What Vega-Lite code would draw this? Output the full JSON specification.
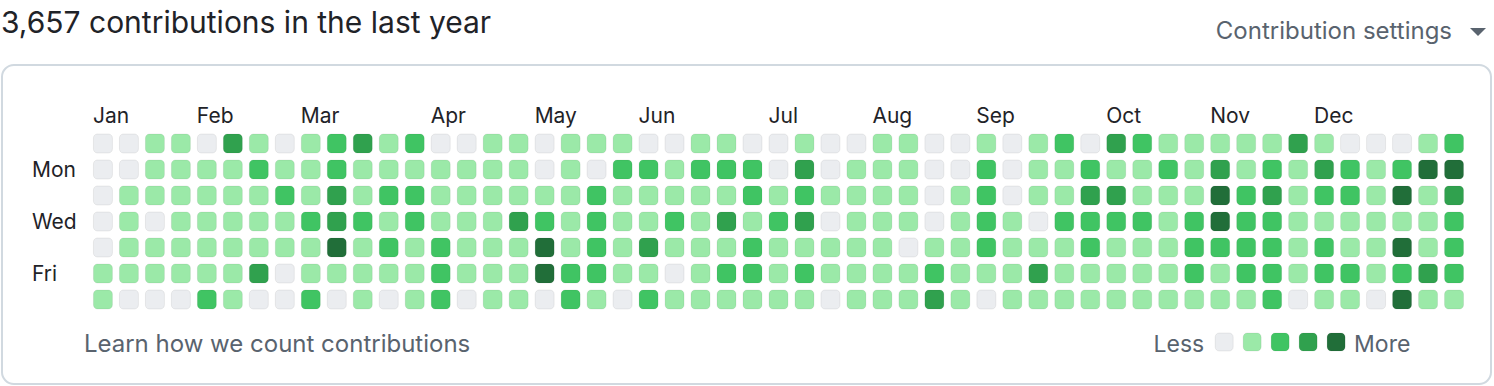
{
  "$schema": "https://vega.github.io/schema/vega-lite/v6.json",
  "width": 1494,
  "height": 386,
  "autosize": {"type": "fit", "contains": "padding"},
  "padding": 0,
  "background": "#ffffff",
  "config": {"view": {"stroke": null}, "text": {"font": "Inter"}},
  "datasets": {
    "cells": [
      {"week":0,"day":0,"level":0},{"week":1,"day":0,"level":0},{"week":2,"day":0,"level":1},{"week":3,"day":0,"level":1},{"week":4,"day":0,"level":0},{"week":5,"day":0,"level":3},{"week":6,"day":0,"level":1},{"week":7,"day":0,"level":0},{"week":8,"day":0,"level":1},{"week":9,"day":0,"level":2},{"week":10,"day":0,"level":3},{"week":11,"day":0,"level":1},{"week":12,"day":0,"level":2},{"week":13,"day":0,"level":0},{"week":14,"day":0,"level":0},{"week":15,"day":0,"level":1},{"week":16,"day":0,"level":1},{"week":17,"day":0,"level":0},{"week":18,"day":0,"level":1},{"week":19,"day":0,"level":1},{"week":20,"day":0,"level":1},{"week":21,"day":0,"level":0},{"week":22,"day":0,"level":0},{"week":23,"day":0,"level":1},{"week":24,"day":0,"level":1},{"week":25,"day":0,"level":0},{"week":26,"day":0,"level":0},{"week":27,"day":0,"level":1},{"week":28,"day":0,"level":0},{"week":29,"day":0,"level":0},{"week":30,"day":0,"level":1},{"week":31,"day":0,"level":1},{"week":32,"day":0,"level":0},{"week":33,"day":0,"level":0},{"week":34,"day":0,"level":1},{"week":35,"day":0,"level":0},{"week":36,"day":0,"level":1},{"week":37,"day":0,"level":2},{"week":38,"day":0,"level":0},{"week":39,"day":0,"level":3},{"week":40,"day":0,"level":2},{"week":41,"day":0,"level":1},{"week":42,"day":0,"level":1},{"week":43,"day":0,"level":1},{"week":44,"day":0,"level":1},{"week":45,"day":0,"level":1},{"week":46,"day":0,"level":3},{"week":47,"day":0,"level":1},{"week":48,"day":0,"level":0},{"week":49,"day":0,"level":0},{"week":50,"day":0,"level":0},{"week":51,"day":0,"level":1},{"week":52,"day":0,"level":2},
      {"week":0,"day":1,"level":0},{"week":1,"day":1,"level":0},{"week":2,"day":1,"level":1},{"week":3,"day":1,"level":1},{"week":4,"day":1,"level":1},{"week":5,"day":1,"level":1},{"week":6,"day":1,"level":2},{"week":7,"day":1,"level":1},{"week":8,"day":1,"level":1},{"week":9,"day":1,"level":2},{"week":10,"day":1,"level":1},{"week":11,"day":1,"level":1},{"week":12,"day":1,"level":1},{"week":13,"day":1,"level":1},{"week":14,"day":1,"level":1},{"week":15,"day":1,"level":1},{"week":16,"day":1,"level":1},{"week":17,"day":1,"level":0},{"week":18,"day":1,"level":1},{"week":19,"day":1,"level":0},{"week":20,"day":1,"level":2},{"week":21,"day":1,"level":2},{"week":22,"day":1,"level":1},{"week":23,"day":1,"level":2},{"week":24,"day":1,"level":2},{"week":25,"day":1,"level":2},{"week":26,"day":1,"level":0},{"week":27,"day":1,"level":3},{"week":28,"day":1,"level":0},{"week":29,"day":1,"level":1},{"week":30,"day":1,"level":1},{"week":31,"day":1,"level":1},{"week":32,"day":1,"level":0},{"week":33,"day":1,"level":0},{"week":34,"day":1,"level":2},{"week":35,"day":1,"level":0},{"week":36,"day":1,"level":1},{"week":37,"day":1,"level":1},{"week":38,"day":1,"level":2},{"week":39,"day":1,"level":1},{"week":40,"day":1,"level":1},{"week":41,"day":1,"level":2},{"week":42,"day":1,"level":1},{"week":43,"day":1,"level":3},{"week":44,"day":1,"level":1},{"week":45,"day":1,"level":2},{"week":46,"day":1,"level":1},{"week":47,"day":1,"level":3},{"week":48,"day":1,"level":2},{"week":49,"day":1,"level":1},{"week":50,"day":1,"level":2},{"week":51,"day":1,"level":4},{"week":52,"day":1,"level":4},
      {"week":0,"day":2,"level":0},{"week":1,"day":2,"level":1},{"week":2,"day":2,"level":1},{"week":3,"day":2,"level":1},{"week":4,"day":2,"level":1},{"week":5,"day":2,"level":1},{"week":6,"day":2,"level":1},{"week":7,"day":2,"level":2},{"week":8,"day":2,"level":1},{"week":9,"day":2,"level":3},{"week":10,"day":2,"level":1},{"week":11,"day":2,"level":2},{"week":12,"day":2,"level":2},{"week":13,"day":2,"level":1},{"week":14,"day":2,"level":1},{"week":15,"day":2,"level":1},{"week":16,"day":2,"level":1},{"week":17,"day":2,"level":1},{"week":18,"day":2,"level":1},{"week":19,"day":2,"level":2},{"week":20,"day":2,"level":1},{"week":21,"day":2,"level":1},{"week":22,"day":2,"level":1},{"week":23,"day":2,"level":1},{"week":24,"day":2,"level":1},{"week":25,"day":2,"level":2},{"week":26,"day":2,"level":1},{"week":27,"day":2,"level":2},{"week":28,"day":2,"level":1},{"week":29,"day":2,"level":1},{"week":30,"day":2,"level":1},{"week":31,"day":2,"level":1},{"week":32,"day":2,"level":0},{"week":33,"day":2,"level":1},{"week":34,"day":2,"level":2},{"week":35,"day":2,"level":0},{"week":36,"day":2,"level":1},{"week":37,"day":2,"level":1},{"week":38,"day":2,"level":3},{"week":39,"day":2,"level":3},{"week":40,"day":2,"level":1},{"week":41,"day":2,"level":1},{"week":42,"day":2,"level":1},{"week":43,"day":2,"level":4},{"week":44,"day":2,"level":2},{"week":45,"day":2,"level":3},{"week":46,"day":2,"level":1},{"week":47,"day":2,"level":2},{"week":48,"day":2,"level":2},{"week":49,"day":2,"level":1},{"week":50,"day":2,"level":4},{"week":51,"day":2,"level":1},{"week":52,"day":2,"level":3},
      {"week":0,"day":3,"level":0},{"week":1,"day":3,"level":1},{"week":2,"day":3,"level":0},{"week":3,"day":3,"level":1},{"week":4,"day":3,"level":1},{"week":5,"day":3,"level":1},{"week":6,"day":3,"level":1},{"week":7,"day":3,"level":1},{"week":8,"day":3,"level":2},{"week":9,"day":3,"level":3},{"week":10,"day":3,"level":2},{"week":11,"day":3,"level":1},{"week":12,"day":3,"level":2},{"week":13,"day":3,"level":1},{"week":14,"day":3,"level":1},{"week":15,"day":3,"level":1},{"week":16,"day":3,"level":3},{"week":17,"day":3,"level":2},{"week":18,"day":3,"level":1},{"week":19,"day":3,"level":2},{"week":20,"day":3,"level":1},{"week":21,"day":3,"level":1},{"week":22,"day":3,"level":2},{"week":23,"day":3,"level":1},{"week":24,"day":3,"level":3},{"week":25,"day":3,"level":1},{"week":26,"day":3,"level":2},{"week":27,"day":3,"level":3},{"week":28,"day":3,"level":0},{"week":29,"day":3,"level":1},{"week":30,"day":3,"level":1},{"week":31,"day":3,"level":1},{"week":32,"day":3,"level":0},{"week":33,"day":3,"level":1},{"week":34,"day":3,"level":2},{"week":35,"day":3,"level":1},{"week":36,"day":3,"level":0},{"week":37,"day":3,"level":2},{"week":38,"day":3,"level":2},{"week":39,"day":3,"level":2},{"week":40,"day":3,"level":2},{"week":41,"day":3,"level":1},{"week":42,"day":3,"level":2},{"week":43,"day":3,"level":4},{"week":44,"day":3,"level":2},{"week":45,"day":3,"level":2},{"week":46,"day":3,"level":1},{"week":47,"day":3,"level":1},{"week":48,"day":3,"level":1},{"week":49,"day":3,"level":1},{"week":50,"day":3,"level":1},{"week":51,"day":3,"level":1},{"week":52,"day":3,"level":2},
      {"week":0,"day":4,"level":0},{"week":1,"day":4,"level":1},{"week":2,"day":4,"level":1},{"week":3,"day":4,"level":1},{"week":4,"day":4,"level":1},{"week":5,"day":4,"level":1},{"week":6,"day":4,"level":1},{"week":7,"day":4,"level":1},{"week":8,"day":4,"level":1},{"week":9,"day":4,"level":4},{"week":10,"day":4,"level":1},{"week":11,"day":4,"level":2},{"week":12,"day":4,"level":1},{"week":13,"day":4,"level":2},{"week":14,"day":4,"level":1},{"week":15,"day":4,"level":1},{"week":16,"day":4,"level":1},{"week":17,"day":4,"level":4},{"week":18,"day":4,"level":1},{"week":19,"day":4,"level":2},{"week":20,"day":4,"level":1},{"week":21,"day":4,"level":3},{"week":22,"day":4,"level":1},{"week":23,"day":4,"level":1},{"week":24,"day":4,"level":1},{"week":25,"day":4,"level":2},{"week":26,"day":4,"level":1},{"week":27,"day":4,"level":1},{"week":28,"day":4,"level":1},{"week":29,"day":4,"level":1},{"week":30,"day":4,"level":1},{"week":31,"day":4,"level":0},{"week":32,"day":4,"level":1},{"week":33,"day":4,"level":1},{"week":34,"day":4,"level":2},{"week":35,"day":4,"level":1},{"week":36,"day":4,"level":1},{"week":37,"day":4,"level":1},{"week":38,"day":4,"level":2},{"week":39,"day":4,"level":1},{"week":40,"day":4,"level":1},{"week":41,"day":4,"level":1},{"week":42,"day":4,"level":2},{"week":43,"day":4,"level":2},{"week":44,"day":4,"level":2},{"week":45,"day":4,"level":2},{"week":46,"day":4,"level":1},{"week":47,"day":4,"level":2},{"week":48,"day":4,"level":1},{"week":49,"day":4,"level":1},{"week":50,"day":4,"level":4},{"week":51,"day":4,"level":1},{"week":52,"day":4,"level":2},
      {"week":0,"day":5,"level":1},{"week":1,"day":5,"level":1},{"week":2,"day":5,"level":1},{"week":3,"day":5,"level":1},{"week":4,"day":5,"level":1},{"week":5,"day":5,"level":1},{"week":6,"day":5,"level":3},{"week":7,"day":5,"level":0},{"week":8,"day":5,"level":1},{"week":9,"day":5,"level":1},{"week":10,"day":5,"level":1},{"week":11,"day":5,"level":1},{"week":12,"day":5,"level":1},{"week":13,"day":5,"level":2},{"week":14,"day":5,"level":1},{"week":15,"day":5,"level":1},{"week":16,"day":5,"level":1},{"week":17,"day":5,"level":4},{"week":18,"day":5,"level":2},{"week":19,"day":5,"level":2},{"week":20,"day":5,"level":1},{"week":21,"day":5,"level":1},{"week":22,"day":5,"level":0},{"week":23,"day":5,"level":1},{"week":24,"day":5,"level":2},{"week":25,"day":5,"level":2},{"week":26,"day":5,"level":1},{"week":27,"day":5,"level":2},{"week":28,"day":5,"level":1},{"week":29,"day":5,"level":1},{"week":30,"day":5,"level":1},{"week":31,"day":5,"level":1},{"week":32,"day":5,"level":2},{"week":33,"day":5,"level":1},{"week":34,"day":5,"level":1},{"week":35,"day":5,"level":1},{"week":36,"day":5,"level":3},{"week":37,"day":5,"level":1},{"week":38,"day":5,"level":1},{"week":39,"day":5,"level":1},{"week":40,"day":5,"level":1},{"week":41,"day":5,"level":1},{"week":42,"day":5,"level":2},{"week":43,"day":5,"level":1},{"week":44,"day":5,"level":2},{"week":45,"day":5,"level":2},{"week":46,"day":5,"level":1},{"week":47,"day":5,"level":2},{"week":48,"day":5,"level":2},{"week":49,"day":5,"level":1},{"week":50,"day":5,"level":2},{"week":51,"day":5,"level":3},{"week":52,"day":5,"level":2},
      {"week":0,"day":6,"level":1},{"week":1,"day":6,"level":0},{"week":2,"day":6,"level":0},{"week":3,"day":6,"level":0},{"week":4,"day":6,"level":2},{"week":5,"day":6,"level":1},{"week":6,"day":6,"level":0},{"week":7,"day":6,"level":0},{"week":8,"day":6,"level":2},{"week":9,"day":6,"level":0},{"week":10,"day":6,"level":1},{"week":11,"day":6,"level":0},{"week":12,"day":6,"level":1},{"week":13,"day":6,"level":2},{"week":14,"day":6,"level":0},{"week":15,"day":6,"level":1},{"week":16,"day":6,"level":1},{"week":17,"day":6,"level":0},{"week":18,"day":6,"level":2},{"week":19,"day":6,"level":1},{"week":20,"day":6,"level":0},{"week":21,"day":6,"level":2},{"week":22,"day":6,"level":1},{"week":23,"day":6,"level":1},{"week":24,"day":6,"level":1},{"week":25,"day":6,"level":1},{"week":26,"day":6,"level":1},{"week":27,"day":6,"level":1},{"week":28,"day":6,"level":0},{"week":29,"day":6,"level":1},{"week":30,"day":6,"level":1},{"week":31,"day":6,"level":1},{"week":32,"day":6,"level":3},{"week":33,"day":6,"level":1},{"week":34,"day":6,"level":0},{"week":35,"day":6,"level":1},{"week":36,"day":6,"level":1},{"week":37,"day":6,"level":1},{"week":38,"day":6,"level":1},{"week":39,"day":6,"level":1},{"week":40,"day":6,"level":1},{"week":41,"day":6,"level":1},{"week":42,"day":6,"level":1},{"week":43,"day":6,"level":1},{"week":44,"day":6,"level":1},{"week":45,"day":6,"level":2},{"week":46,"day":6,"level":0},{"week":47,"day":6,"level":1},{"week":48,"day":6,"level":1},{"week":49,"day":6,"level":0},{"week":50,"day":6,"level":4},{"week":51,"day":6,"level":1},{"week":52,"day":6,"level":1}
    ],
    "months": [
      {"month":"Jan","week":0},{"month":"Feb","week":4},{"month":"Mar","week":8},{"month":"Apr","week":13},{"month":"May","week":17},{"month":"Jun","week":21},{"month":"Jul","week":26},{"month":"Aug","week":30},{"month":"Sep","week":34},{"month":"Oct","week":39},{"month":"Nov","week":43},{"month":"Dec","week":47}
    ],
    "days": [
      {"label":"Mon","day":1},{"label":"Wed","day":3},{"label":"Fri","day":5}
    ],
    "levels": [
      {"level":0},{"level":1},{"level":2},{"level":3},{"level":4}
    ]
  },
  "resolve": {"scale": {"x": "independent"}},
  "layer": [
    {
      "layer": [
        {
          "data": {"values": [{}]},
          "mark": {"type": "rect", "fill": "#ffffff", "stroke": "#d1d9e0", "strokeWidth": 2, "cornerRadius": 12},
          "encoding": {
            "x": {"datum": -3.885, "type": "quantitative", "scale": {"domain": [-3.923, 53.538], "nice": false, "zero": false}, "axis": null},
            "x2": {"datum": 53.423},
            "y": {"datum": -3.019, "type": "quantitative", "scale": {"domain": [-5.519, 9.327], "nice": false, "zero": false, "reverse": true}, "axis": null},
            "y2": {"datum": 9.25}
          }
        },
        {
          "data": {"name": "cells"},
          "mark": {"type": "rect", "width": 19, "height": 19, "cornerRadius": 4, "stroke": "#1b1f23", "strokeOpacity": 0.07, "strokeWidth": 1},
          "encoding": {
            "x": {"field": "week", "type": "quantitative", "scale": {"domain": [-3.923, 53.538], "nice": false, "zero": false}, "axis": null},
            "y": {"field": "day", "type": "quantitative", "scale": {"domain": [-5.519, 9.327], "nice": false, "zero": false, "reverse": true}, "axis": null},
            "color": {"field": "level", "type": "ordinal", "scale": {"domain": [0, 1, 2, 3, 4], "range": ["#ebedf0", "#9be9a8", "#40c463", "#30a14e", "#216e39"]}, "legend": null}
          }
        },
        {
          "data": {"name": "months"},
          "mark": {"type": "text", "align": "left", "baseline": "alphabetic", "dx": -10, "fontSize": 21, "color": "#1f2328"},
          "encoding": {
            "x": {"field": "week", "type": "quantitative", "axis": null},
            "y": {"datum": -0.788, "type": "quantitative", "axis": null},
            "text": {"field": "month"}
          }
        },
        {
          "data": {"name": "days"},
          "mark": {"type": "text", "align": "left", "baseline": "alphabetic", "dy": 7.5, "fontSize": 21, "color": "#1f2328"},
          "encoding": {
            "x": {"datum": -2.731, "type": "quantitative", "axis": null},
            "y": {"field": "day", "type": "quantitative", "axis": null},
            "text": {"field": "label"}
          }
        },
        {
          "data": {"values": [{}]},
          "mark": {"type": "text", "align": "left", "baseline": "alphabetic", "fontSize": 30, "color": "#1f2328", "text": "3,657 contributions in the last year"},
          "encoding": {
            "x": {"datum": -3.923, "type": "quantitative", "axis": null},
            "y": {"datum": -4.25, "type": "quantitative", "axis": null}
          }
        },
        {
          "data": {"values": [{}]},
          "mark": {"type": "text", "align": "right", "baseline": "alphabetic", "fontSize": 24, "color": "#59636e", "text": "Contribution settings"},
          "encoding": {
            "x": {"datum": 51.923, "type": "quantitative", "axis": null},
            "y": {"datum": -4.019, "type": "quantitative", "axis": null}
          }
        },
        {
          "data": {"values": [{}]},
          "mark": {"type": "point", "shape": "M-1,-0.5L1,-0.5L0,0.5Z", "size": 256, "filled": true, "color": "#59636e", "opacity": 1},
          "encoding": {
            "x": {"datum": 52.923, "type": "quantitative", "axis": null},
            "y": {"datum": -4.288, "type": "quantitative", "axis": null}
          }
        },
        {
          "data": {"values": [{}]},
          "mark": {"type": "text", "align": "left", "baseline": "alphabetic", "fontSize": 24, "color": "#59636e", "text": "Learn how we count contributions"},
          "encoding": {
            "x": {"datum": -0.731, "type": "quantitative", "axis": null},
            "y": {"datum": 8.019, "type": "quantitative", "axis": null}
          }
        }
      ]
    },
    {
      "layer": [
        {
          "data": {"name": "levels"},
          "mark": {"type": "rect", "width": 18, "height": 18, "cornerRadius": 4, "stroke": "#1b1f23", "strokeOpacity": 0.07, "strokeWidth": 1},
          "encoding": {
            "x": {"field": "level", "type": "quantitative", "scale": {"domain": [-43.714, 9.643], "nice": false, "zero": false}, "axis": null},
            "y": {"datum": 7.635, "type": "quantitative", "axis": null},
            "color": {"field": "level", "type": "ordinal", "legend": null}
          }
        },
        {
          "data": {"values": [{}]},
          "mark": {"type": "text", "align": "right", "baseline": "alphabetic", "fontSize": 23, "color": "#59636e", "text": "Less"},
          "encoding": {
            "x": {"datum": -0.714, "type": "quantitative", "axis": null},
            "y": {"datum": 8.019, "type": "quantitative", "axis": null}
          }
        },
        {
          "data": {"values": [{}]},
          "mark": {"type": "text", "align": "left", "baseline": "alphabetic", "fontSize": 23, "color": "#59636e", "text": "More"},
          "encoding": {
            "x": {"datum": 4.643, "type": "quantitative", "axis": null},
            "y": {"datum": 8.019, "type": "quantitative", "axis": null}
          }
        }
      ]
    }
  ]
}
